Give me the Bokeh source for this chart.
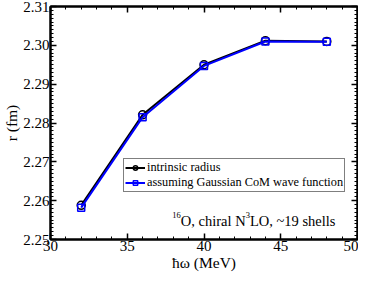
from bokeh.plotting import figure
from bokeh.models import (LinearAxis, SingleIntervalTicker, PrintfTickFormatter,
                          CustomJSTickFormatter, Label, Range1d, Legend, LegendItem)
from bokeh.embed import file_html
from bokeh.resources import INLINE

hw = [32, 36, 40, 44, 48]
r_intrinsic = [2.2588, 2.2821, 2.2950, 2.3012, 2.3010]
r_gaussian = [2.2582, 2.2815, 2.2947, 2.3010, 2.3009]

FONT = "Liberation Serif"

p = figure(width=358, height=273, output_backend="svg", toolbar_location=None,
           x_range=Range1d(30, 50), y_range=Range1d(2.25, 2.31),
           x_axis_location=None, y_axis_location=None,
           min_border_left=0, min_border_right=1, min_border_top=6, min_border_bottom=0)
p.xgrid.visible = False
p.ygrid.visible = False
p.outline_line_color = "black"
p.outline_line_width = 2
p.background_fill_color = "white"
p.border_fill_color = "white"

ax_bottom = LinearAxis(axis_label="ħω (MeV)",
                       ticker=SingleIntervalTicker(interval=5, num_minor_ticks=5),
                       formatter=PrintfTickFormatter(format="%d"))
ax_left = LinearAxis(axis_label="r (fm)",
                     ticker=SingleIntervalTicker(interval=0.01, num_minor_ticks=10),
                     formatter=PrintfTickFormatter(format="%.2f"))
ax_top = LinearAxis(ticker=SingleIntervalTicker(interval=5, num_minor_ticks=5),
                    formatter=CustomJSTickFormatter(code="return ''"))
ax_right = LinearAxis(ticker=SingleIntervalTicker(interval=0.01, num_minor_ticks=10),
                      formatter=CustomJSTickFormatter(code="return ''"))
p.add_layout(ax_bottom, "below")
p.add_layout(ax_left, "left")
p.add_layout(ax_top, "above")
p.add_layout(ax_right, "right")

for ax in [ax_bottom, ax_left, ax_top, ax_right]:
    ax.axis_line_width = 2
    ax.axis_line_color = "black"
    ax.major_tick_in = 6
    ax.major_tick_out = 0
    ax.minor_tick_in = 3
    ax.minor_tick_out = 0
    ax.major_tick_line_width = 1.5
    ax.minor_tick_line_width = 1
    ax.major_label_text_font = FONT
    ax.major_label_text_font_size = "15px"
    ax.major_label_text_color = "black"
    ax.major_label_standoff = 1
    ax.axis_label_text_font = FONT
    ax.axis_label_text_font_size = "15.5px"
    ax.axis_label_text_font_style = "normal"
    ax.axis_label_text_color = "black"
    ax.axis_label_standoff = 0

for ax in [ax_top, ax_right]:
    ax.major_label_standoff = 0

l1 = p.line(hw, r_intrinsic, line_color="black", line_width=2)
s1 = p.scatter(hw, r_intrinsic, marker="circle", size=8, fill_color=None,
               line_color="black", line_width=1.5)
l2 = p.line(hw, r_gaussian, line_color="#0000ff", line_width=2)
s2 = p.scatter(hw, r_gaussian, marker="square", size=7, fill_color=None,
               line_color="#0000ff", line_width=1.5)

legend = Legend(items=[LegendItem(label="intrinsic radius", renderers=[l1, s1]),
                       LegendItem(label="assuming Gaussian CoM wave function", renderers=[l2, s2])],
                location=(73, 47))
legend.label_text_font = FONT
legend.label_text_font_size = "12.3px"
legend.label_text_color = "black"
legend.border_line_color = "black"
legend.border_line_width = 1
legend.background_fill_alpha = 1
legend.padding = 1
legend.spacing = -2
legend.margin = 0
legend.glyph_width = 20
legend.glyph_height = 11
legend.label_height = 11
legend.label_standoff = 2
legend.label_text_line_height = 1.0
p.add_layout(legend, "center")

# annotation: 16O, chiral N3LO, ~19 shells
ax_x = 50
ax_y = 2.25
F = "14.5px"
FS = "8.5px"
pieces = [
    ("LO, ~19 shells", F, 0, 0),
    ("3", FS, -85.6, 6),
    ("O, chiral N", F, -89.9, 0),
    ("16", FS, -154.7, 6),
]
for txt, fs, xo, yo in pieces:
    p.add_layout(Label(x=ax_x, y=ax_y, text=txt, text_font=FONT, text_font_size=fs,
                       text_align="right", text_baseline="alphabetic",
                       x_offset=xo - 22, y_offset=yo + 19, text_color="black"))

open("out.html", "w").write(file_html(p, INLINE))
